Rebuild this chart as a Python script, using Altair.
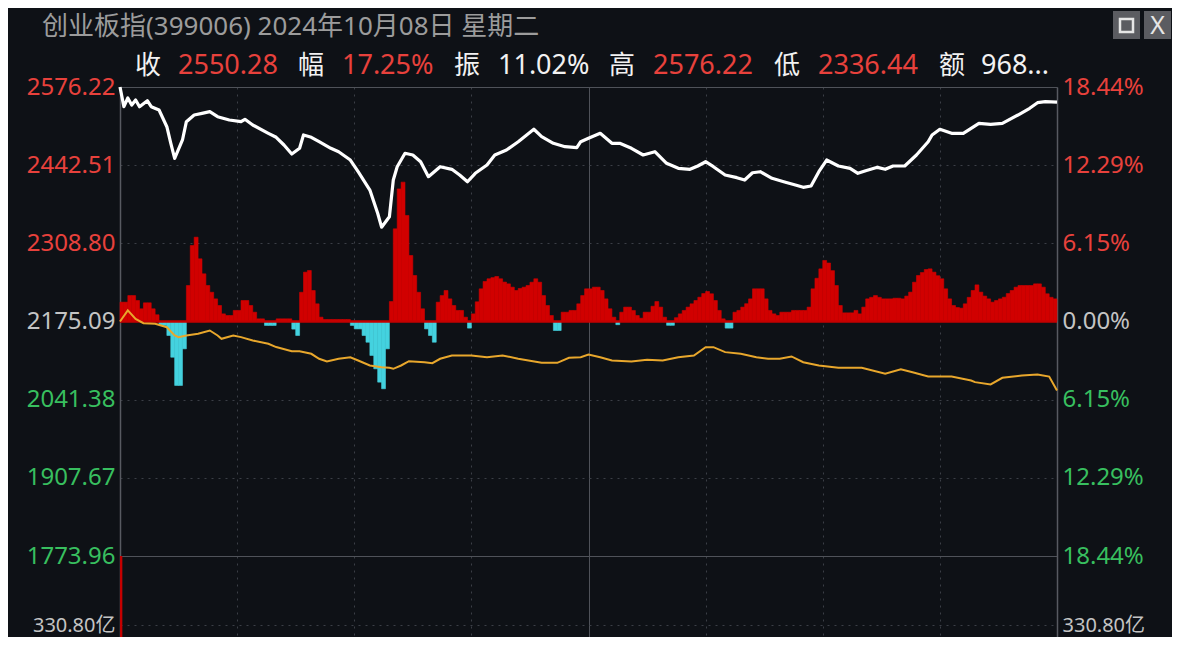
import altair as alt
import pandas as pd

# ---------------- data ----------------
BASE = 2175.09                      # previous close (0.00% line)
PRICE_TICKS = [2576.22, 2442.51, 2308.80, 2175.09, 2041.38, 1907.67, 1773.96]
VOL_TICK = 330.80                   # 亿, volume-pane gridline
VOL_FIRST = 700.0                   # first-minute turnover (runs off the pane top)

price_min = [0, 1, 2, 3, 4, 5, 7, 8, 10, 12,
             13, 14, 16, 17, 19, 21, 23, 25, 28, 31,
             32, 34, 38, 40, 42, 44, 46, 47, 49, 51,
             54, 56, 59, 61, 64, 66, 67, 69, 70, 71,
             73, 75, 77, 79, 82, 85, 87, 89, 91, 94,
             96, 99, 102, 106, 108, 111, 114, 117, 118, 120,
             123, 126, 128, 131, 134, 137, 140, 143, 146, 148,
             150, 152, 155, 158, 160, 162, 164, 167, 170, 173,
             175, 177, 179, 181, 184, 187, 189, 191, 194, 196,
             198, 201, 204, 207, 208, 210, 213, 216, 218, 220,
             223, 226, 230, 233, 235, 237, 240]
price_val = [2576.22, 2542.5, 2557.4, 2545.4, 2554.0, 2542.5, 2552.8, 2542.5, 2536.9, 2508.3,
             2480.4, 2454.2, 2485.6, 2516.9, 2528.3, 2531.2, 2534.0, 2525.4, 2519.8, 2516.9,
             2521.0, 2511.2, 2497.0, 2490.2, 2477.0, 2461.6, 2471.4, 2494.1, 2490.2, 2482.6,
             2471.4, 2465.5, 2451.3, 2431.3, 2400.0, 2360.2, 2336.44, 2354.3, 2417.1, 2439.9,
             2462.8, 2459.9, 2448.4, 2422.8, 2439.9, 2435.4, 2425.7, 2414.2, 2428.6, 2442.8,
             2459.9, 2468.5, 2482.6, 2503.9, 2491.2, 2479.9, 2474.1, 2472.4, 2482.6, 2488.5,
             2497.0, 2479.9, 2479.9, 2471.4, 2459.9, 2465.5, 2445.7, 2437.1, 2435.4, 2441.1,
             2448.4, 2439.9, 2425.7, 2421.1, 2417.1, 2429.6, 2431.3, 2420.0, 2414.2, 2408.6,
             2404.6, 2406.9, 2431.3, 2451.3, 2441.1, 2437.1, 2428.6, 2433.0, 2438.8, 2435.4,
             2441.1, 2441.1, 2459.9, 2482.6, 2494.1, 2503.9, 2497.0, 2497.0, 2505.6, 2514.1,
             2512.4, 2514.1, 2528.3, 2539.8, 2549.4, 2551.1, 2550.28]

yellow_min = [0, 2, 4, 6, 9, 12, 14, 15, 17, 20,
              23, 25, 26, 29, 31, 34, 38, 40, 44, 46,
              49, 51, 53, 56, 59, 61, 64, 67, 69, 70,
              72, 74, 78, 80, 82, 85, 90, 94, 98, 102,
              108, 112, 115, 118, 120, 123, 126, 131, 135, 139,
              143, 147, 150, 152, 155, 159, 163, 166, 169, 172,
              175, 179, 184, 190, 196, 200, 203, 207, 213, 218,
              219, 223, 226, 231, 235, 238, 240]
yellow_pct = [0.0, 0.87, 0.21, -0.13, -0.18, -0.45, -1.10, -1.23, -1.10, -0.97,
              -0.71, -1.10, -1.36, -1.10, -1.23, -1.49, -1.75, -2.01, -2.34, -2.34,
              -2.54, -2.93, -3.15, -2.93, -2.81, -3.07, -3.46, -3.59, -3.64, -3.72,
              -3.46, -3.12, -3.20, -3.28, -2.93, -2.67, -2.67, -2.81, -2.67, -2.93,
              -3.25, -3.25, -2.85, -2.81, -2.60, -2.81, -3.07, -3.15, -3.01, -3.07,
              -2.81, -2.67, -2.02, -2.02, -2.41, -2.54, -2.81, -2.93, -2.93, -2.75,
              -3.20, -3.46, -3.64, -3.64, -4.11, -3.75, -3.99, -4.33, -4.33, -4.64,
              -4.77, -4.95, -4.43, -4.25, -4.17, -4.33, -5.43]

# one value per minute (0 .. 239), in % of the previous close
bar_pct = [1.52, 1.52, 2.04, 2.04, 1.65, 1.00, 1.47, 1.47, 1.00, 0.53,
           -0.31, -0.31, -1.10, -2.81, -5.03, -5.03, -2.15, 2.83, 5.98, 6.63,
           4.93, 3.75, 2.83, 2.30, 1.78, 1.26, 0.60, 0.47, 0.47, 0.87,
           0.87, 1.65, 1.65, 1.26, 0.73, 0.21, 0.21, -0.31, -0.31, -0.31,
           0.21, 0.21, 0.21, 0.21, -0.60, -1.10, 2.30, 3.88, 4.01, 2.44,
           1.39, 0.34, 0.16, 0.16, 0.16, 0.16, 0.16, 0.16, 0.16, -0.31,
           -0.58, -0.58, -1.10, -1.63, -2.67, -3.72, -4.77, -5.29, -2.15, 1.57,
           7.29, 10.43, 10.96, 8.34, 5.19, 3.62, 2.30, 1.00, -0.58, -1.10,
           -1.63, 1.52, 2.04, 2.44, 1.78, 1.26, 0.87, 0.87, 0.34, -0.52,
           0.60, 1.55, 2.57, 3.15, 3.36, 3.45, 3.54, 3.36, 3.10, 2.96,
           2.70, 2.44, 2.60, 2.70, 2.83, 3.09, 3.36, 3.09, 2.04, 1.26,
           0.47, -0.71, -0.71, 0.73, 0.73, 0.87, 0.87, 1.39, 2.04, 2.57,
           2.57, 2.70, 2.70, 2.44, 1.78, 1.00, 0.34, -0.25, 0.73, 1.13,
           1.13, 0.87, 0.47, 0.26, 0.73, 0.73, 1.20, 1.57, 1.13, 0.34,
           -0.30, -0.30, 0.30, 0.60, 0.87, 1.13, 1.39, 1.65, 1.91, 2.20,
           2.36, 2.18, 1.65, 0.87, 0.21, -0.52, -0.52, 0.73, 0.87, 1.13,
           1.40, 1.78, 2.57, 2.57, 2.57, 1.78, 0.87, 0.60, 0.47, 0.73,
           0.73, 0.73, 0.87, 0.87, 0.87, 0.87, 1.13, 2.57, 3.40, 4.14,
           4.80, 4.60, 4.00, 2.83, 1.26, 0.68, 0.68, 0.68, 0.87, 0.60,
           1.13, 1.78, 1.90, 2.04, 1.90, 1.78, 1.78, 1.78, 1.83, 1.83,
           1.78, 2.00, 2.31, 3.09, 3.62, 3.85, 4.09, 4.14, 3.88, 3.60,
           3.36, 2.57, 1.78, 1.26, 1.10, 1.05, 1.39, 1.90, 2.44, 2.88,
           2.31, 2.00, 1.78, 1.52, 1.65, 1.78, 1.91, 2.20, 2.44, 2.70,
           2.83, 2.83, 2.83, 2.83, 2.96, 2.96, 2.70, 2.18, 1.90, 1.78]

title_text = "创业板指(399006) 2024年10月08日 星期二"
info_keys = ["收", "幅", "振", "高", "低", "额"]
info_vals = ["2550.28", "17.25%", "11.02%", "2576.22", "2336.44", "968..."]
info_val_red = [True, True, False, True, True, False]

assert len(price_min) == len(price_val)
assert len(yellow_min) == len(yellow_pct)
assert len(bar_pct) == 240

# ---------------- layout / style ----------------
W, H = 937, 550
PAD = {"left": 112, "top": 79, "right": 115, "bottom": 0}
FONT = "Noto Sans, Noto Sans CJK SC"
BG = "#0e1116"
RED_TXT = "#e8413c"
GREEN_TXT = "#38bf5f"
GRAY_TXT = "#c4c4c4"
WHITE_TXT = "#f2f2f2"
RED_BAR = "#d10000"
CYAN = "#44d2df"
YELLOW = "#e8a72c"
GRID = "#3b3f46"
GRID_SOLID = "#4f5259"
AXIS = "#575a61"

PX_PER_PT = 469.0 / (PRICE_TICKS[0] - PRICE_TICKS[-1])     # price pane: 469 px tall
Y_LO = PRICE_TICKS[-1] - (H - 469) / PX_PER_PT
VOL_PT_PER_YI = (69.0 / VOL_TICK) / PX_PER_PT                 # volume gridline 69 px below pane top
VOL_TOP = 2 * VOL_TICK
VOL_LINE = PRICE_TICKS[-1] - (VOL_TOP - VOL_TICK) * VOL_PT_PER_YI

y_ticks = PRICE_TICKS + [VOL_LINE]
yscale = alt.Scale(domain=[Y_LO, PRICE_TICKS[0]], nice=False, zero=False)
xscale = alt.Scale(domain=[0, 240], nice=False, zero=False)

label_color = {"condition": [
    {"test": f"datum.value > {BASE + 1}", "value": RED_TXT},
    {"test": f"datum.value < {BASE - 1} && datum.value > 1700", "value": GREEN_TXT}],
    "value": GRAY_TXT}
label_size = {"condition": {"test": "datum.value < 1700", "value": 20}, "value": 24}
solid_test = f"datum.value > {PRICE_TICKS[0] - 0.5} || abs(datum.value - {PRICE_TICKS[-1]}) < 0.5"
grid_dash = {"condition": {"test": solid_test, "value": []}, "value": [2, 5]}
grid_color = {"condition": {"test": solid_test, "value": GRID_SOLID}, "value": GRID}
vol_label = f"{VOL_TICK:.2f}亿"

left_axis = alt.Axis(orient="left", values=y_ticks, title=None, ticks=False, labelPadding=5,
                     labelExpr=f"datum.value < 1700 ? '{vol_label}' : format(datum.value, '.2f')",
                     labelColor=label_color, labelFontSize=label_size, labelFont=FONT,
                     labelFlush=False, labelOverlap=False, labelBound=False,
                     domain=True, domainColor=AXIS, domainWidth=1.5,
                     grid=True, gridDash=grid_dash, gridColor=grid_color, gridWidth=1)
right_axis = alt.Axis(orient="right", values=y_ticks, title=None, ticks=False, labelPadding=5,
                      labelExpr=f"datum.value < 1700 ? '{vol_label}' : format(abs(datum.value / {BASE} - 1) * 100, '.2f') + '%'",
                      labelColor=label_color, labelFontSize=label_size, labelFont=FONT,
                      labelFlush=False, labelOverlap=False, labelBound=False,
                      domain=True, domainColor=AXIS, domainWidth=1.5, grid=False)
x_axis = alt.Axis(values=list(range(0, 241, 30)), labels=False, ticks=False, domain=False, title=None,
                  grid=True, gridWidth=1,
                  gridDash={"condition": {"test": "datum.value == 120", "value": []}, "value": [2, 5]},
                  gridColor={"condition": {"test": "datum.value == 120", "value": GRID_SOLID}, "value": GRID})

def X(field):
    return alt.X(field, scale=xscale, axis=x_axis)

# ---------------- tables ----------------
price_df = pd.DataFrame({"m": price_min, "p": price_val})
yellow_df = pd.DataFrame({"m": yellow_min, "pct": yellow_pct})
bar_df = pd.DataFrame({"m": list(range(len(bar_pct))), "v": bar_pct})
vol_df = pd.DataFrame({"m": [0], "vol": [VOL_FIRST]})
zero_df = pd.DataFrame({"b": [BASE]})

bars = alt.Chart(bar_df).transform_calculate(
    m2="datum.m + 1", yv=f"{BASE} * (1 + datum.v / 100)", y0=f"{BASE}"
).mark_rect(strokeWidth=0.6).encode(
    x=X("m:Q"), x2="m2:Q",
    y=alt.Y("yv:Q", scale=yscale, axis=None), y2="y0:Q",
    color=alt.condition("datum.v > 0", alt.value(RED_BAR), alt.value(CYAN)),
    stroke=alt.condition("datum.v > 0", alt.value(RED_BAR), alt.value(CYAN)),
)

zero = alt.Chart(zero_df).mark_rule(color="#c40000", strokeWidth=2.5).encode(
    y=alt.Y("b:Q", scale=yscale, axis=None)
)

yellow = alt.Chart(yellow_df).transform_calculate(
    yv=f"{BASE} * (1 + datum.pct / 100)"
).mark_line(color=YELLOW, strokeWidth=2).encode(
    x=X("m:Q"), y=alt.Y("yv:Q", scale=yscale, axis=right_axis)
)

white = alt.Chart(price_df).mark_line(color="#ffffff", strokeWidth=3.2, strokeJoin="round").encode(
    x=X("m:Q"), y=alt.Y("p:Q", scale=yscale, axis=left_axis)
)

vol = alt.Chart(vol_df).transform_calculate(
    m2="datum.m + 0.6",
    ytop=f"{PRICE_TICKS[-1]} - ({VOL_TOP} - min(datum.vol, {VOL_TOP})) * {VOL_PT_PER_YI}",
    ybot=f"{PRICE_TICKS[-1]} - {VOL_TOP} * {VOL_PT_PER_YI}",
).mark_rect(color="#c40000", clip=True).encode(
    x=X("m:Q"), x2="m2:Q",
    y=alt.Y("ytop:Q", scale=yscale, axis=None), y2="ybot:Q"
)

# ---------------- header (text + window buttons) ----------------
def text_layer(txt, x, y, color, size, align="left"):
    return alt.Chart(alt.Data(values=[{"t": txt}])).mark_text(
        align=align, baseline="middle", font=FONT, fontSize=size, color=color
    ).encode(x=alt.value(x), y=alt.value(y), text="t:N")

texts = [text_layer(title_text, -78, -60, "#9c9c9c", 26)]
key_x = [15, 178, 334, 489, 654, 819]
val_x = [58, 222, 378, 533, 698, 861]
for k, v, red, kx, vx in zip(info_keys, info_vals, info_val_red, key_x, val_x):
    texts.append(text_layer(k, kx, -21, WHITE_TXT, 26))
    texts.append(text_layer(v, vx, -21, RED_TXT if red else WHITE_TXT, 27))

one = alt.Data(values=[{"a": 1}])
btn1 = alt.Chart(one).mark_rect(color="#5b5c61").encode(
    x=alt.value(993), x2=alt.value(1020), y=alt.value(-76), y2=alt.value(-48))
btn2 = alt.Chart(one).mark_rect(color="#5b5c61").encode(
    x=alt.value(1024), x2=alt.value(1051), y=alt.value(-76), y2=alt.value(-48))
btn_sq = alt.Chart(one).mark_rect(fill=None, stroke="#e6e6e6", strokeWidth=2.5).encode(
    x=alt.value(1000), x2=alt.value(1013), y=alt.value(-68), y2=alt.value(-55))
btn_x = text_layer("X", 1037.5, -61, "#e6e6e6", 25, align="center")

chart = alt.layer(
    bars, zero, yellow, white, vol, *texts, btn1, btn2, btn_sq, btn_x
).resolve_scale(y="independent").properties(
    width=W, height=H, padding=PAD,
    autosize=alt.AutoSizeParams(type="none"), background=BG
).configure_view(stroke=None)

chart.save("out.html", embed_options={"renderer": "svg", "actions": False})
